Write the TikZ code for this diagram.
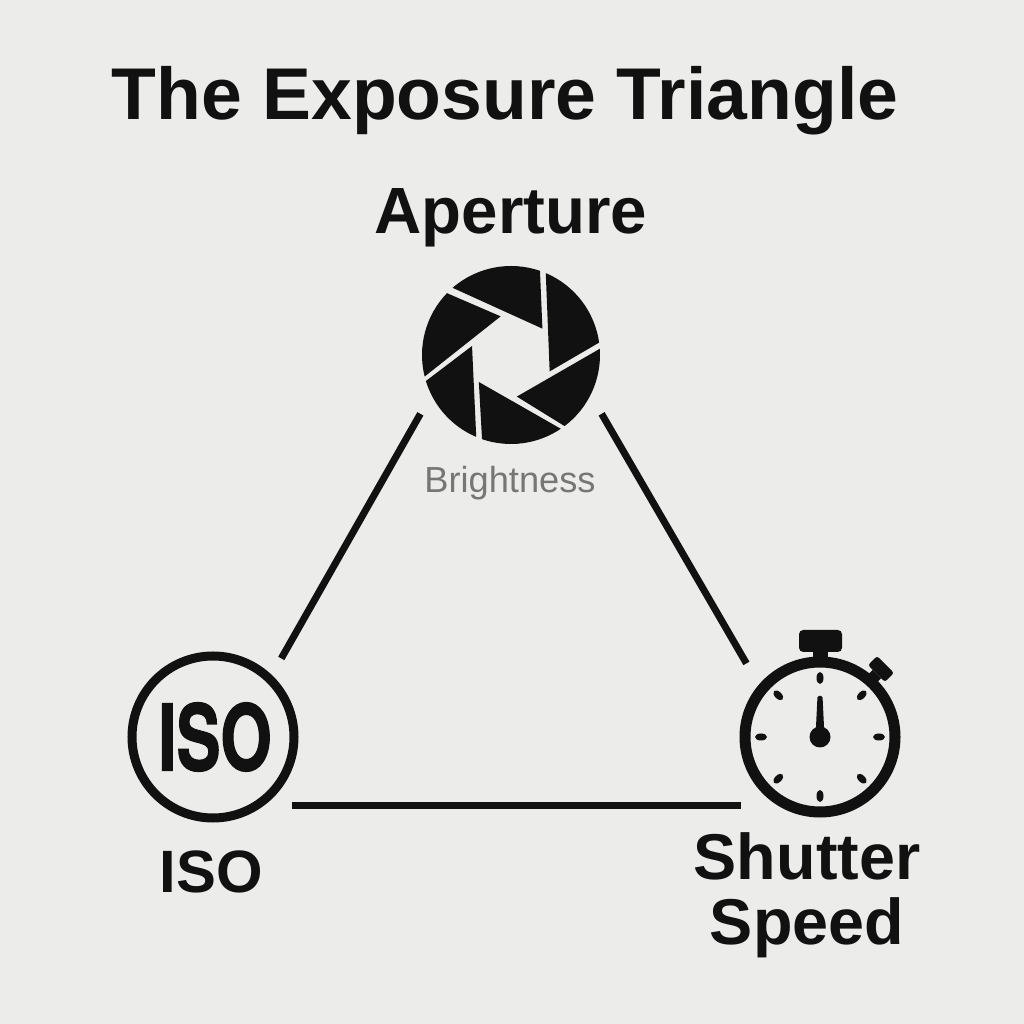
\documentclass[tikz,border=0pt]{standalone}
\usepackage{fontspec}
\usetikzlibrary{calc}
\setmainfont{Liberation Sans}
\newfontfamily\heavyfont[BoldFeatures={FakeBold=1.6}]{TeX Gyre Heros}
\definecolor{paper}{HTML}{ECECEA}
\definecolor{ink}{HTML}{111111}
\definecolor{mutedgray}{HTML}{767676}
\tikzset{
  hub/.style={circle,inner sep=0pt,outer sep=0pt,minimum size=#1},
  link/.style={ink,line width=0.7mm},
  heading/.style={text=ink,font=\bfseries\fontsize{#1}{#1}\selectfont,inner sep=0pt},
}
\begin{document}
\begin{tikzpicture}[x=0.01cm,y=0.01cm]
  \fill[paper](0,0) rectangle (1024,1024);
  % title and hubs
  \node[heading=20.85pt,anchor=base] (title) at (505,904) {The Exposure Triangle};
  \node[hub=2.16cm] (aperture) at (511,669) {};
  \node[hub=2.08cm] (iso) at (213,287) {};
  \node[hub=2.08cm] (shutter) at (820,287) {};
  % triangle
  \draw[link] (aperture.213)--(iso.49);
  \draw[link] (aperture.-33)--(shutter.135);
  \draw[link] (iso.-41)--(shutter.221);
  % aperture blades
  \foreach \sa/\ea/\ta/\tr in {131/71/40/41,67/8/-23/42,4/-53/-82/42,-56/-109/-140/42,-113/-163/167/40,194/136/105/40}
    \fill[ink] ($(aperture.center)+(\sa:89)$) arc[start angle=\sa,end angle=\ea,radius=89]
      -- ($(aperture.center)+(\ta:\tr)$) -- cycle;
  \node[hub=0pt,anchor=base,text=mutedgray,font=\fontsize{10.3pt}{10.3pt}\selectfont] (brightness) at (510,531) {Brightness};
  \node[heading=18.6pt,anchor=base] (aperturelabel) at (511,790) {Aperture};
  % iso badge
  \draw[ink,line width=0.9mm] (iso.center) circle(81);
  \node[heading=26pt,xscale=0.72] (isomark) at (215,287) {\heavyfont\bfseries ISO};
  \node[heading=17pt,anchor=base] (isolabel) at (211,131) {ISO};
  % stopwatch
  \draw[ink,line width=1.1mm] (shutter.center) circle(75);
  \fill[ink,rounded corners=1.2pt] (799,372) rectangle (842,394);
  \fill[ink] (813,360) rectangle (828,374);
  \fill[ink,rotate around={-45:(881,355)},rounded corners=0.8pt] (869,348.5) rectangle (893,361.5);
  \fill[ink,rotate around={-45:(872,345)}] (866,340) rectangle (878,352);
  \foreach \a in {0,45,...,315}
    \fill[ink,shift={(shutter.center)},rotate=\a] (59,0) ellipse[x radius=6,y radius=3.5];
  \fill[ink] (shutter.center) circle(10.5);
  \fill[ink,rounded corners=0.4pt] (815.5,287) -- (817.5,328) -- (822.5,328) -- (824.5,287) -- cycle;
  \node[heading=18.4pt,align=center,anchor=center] (shutterlabel) at (807,129)
    {\baselineskip=18.5pt Shutter\\Speed};
  \useasboundingbox (0,0) rectangle (1024,1024);
\end{tikzpicture}
\end{document}
